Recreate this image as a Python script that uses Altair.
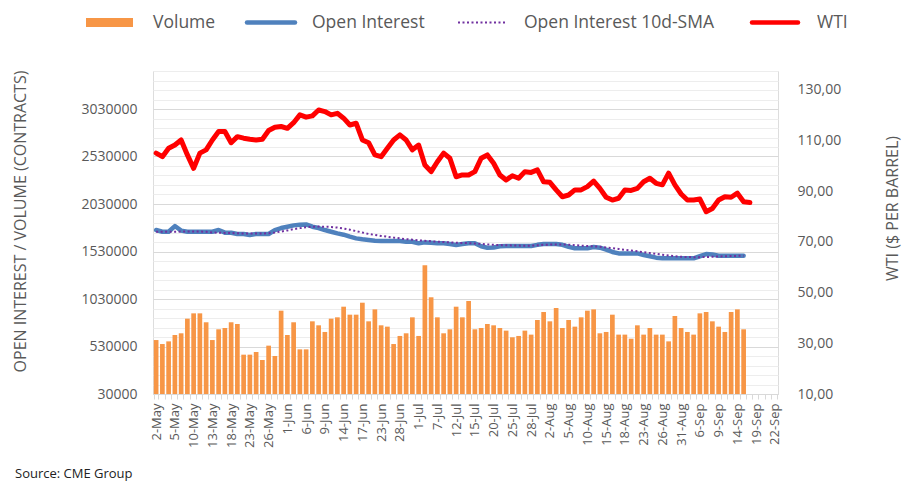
import json
import altair as alt
import pandas as pd

# ---- categories (trading days, 2-May .. 22-Sep) ----
may_days = [2, 3, 4, 5, 6, 9, 10, 11, 12, 13, 16, 17, 18, 19, 20, 23, 24, 25, 26, 27, 31]
jun_days = [1, 2, 3, 6, 7, 8, 9, 10, 13, 14, 15, 16, 17, 21, 22, 23, 24, 27, 28, 29, 30]
jul_days = [1, 5, 6, 7, 8, 11, 12, 13, 14, 15, 18, 19, 20, 21, 22, 25, 26, 27, 28, 29]
aug_days = [1, 2, 3, 4, 5, 8, 9, 10, 11, 12, 15, 16, 17, 18, 19, 22, 23, 24, 25, 26, 29, 30, 31]
sep_days = [1, 2, 6, 7, 8, 9, 12, 13, 14, 15, 16, 19, 20, 21, 22]

dates = ([f"{d}-May" for d in may_days] + [f"{d}-Jun" for d in jun_days] +
         [f"{d}-Jul" for d in jul_days] + [f"{d}-Aug" for d in aug_days] +
         [f"{d}-Sep" for d in sep_days])

# labels shown on the x axis (every third trading day)
x_labels = dates[::3]

# ---- series (thousands of contracts) ----
volume_k = [598, 556, 584, 651, 669, 823, 879, 879, 785, 598,
            711, 725, 785, 767, 444, 444, 472, 388, 539, 430,
            907, 651, 785, 500, 500, 795, 753, 683, 823, 837,
            949, 865, 865, 991, 795, 921, 753, 739, 556, 641,
            669, 837, 641, 1384, 1048, 837, 669, 711, 949, 837,
            1009, 711, 725, 767, 753, 725, 697, 627, 641, 697,
            655, 809, 893, 795, 935, 725, 809, 739, 837, 907,
            921, 669, 683, 865, 655, 655, 612, 753, 655, 725,
            655, 655, 584, 851, 725, 683, 655, 879, 893, 795,
            739, 683, 893, 921, 711]

oi_k = [1756, 1738, 1738, 1798, 1750, 1738, 1738, 1738, 1738, 1738,
        1756, 1728, 1728, 1714, 1714, 1704, 1714, 1714, 1714, 1756,
        1777, 1791, 1805, 1812, 1815, 1791, 1777, 1756, 1738, 1721,
        1707, 1686, 1668, 1658, 1651, 1644, 1640, 1640, 1640, 1640,
        1633, 1633, 1616, 1626, 1623, 1616, 1616, 1609, 1598, 1609,
        1616, 1616, 1585, 1570, 1572, 1585, 1588, 1588, 1588, 1588,
        1588, 1600, 1609, 1609, 1609, 1600, 1580, 1563, 1563, 1563,
        1577, 1570, 1550, 1525, 1510, 1510, 1510, 1510, 1493, 1480,
        1465, 1458, 1458, 1458, 1458, 1458, 1458, 1480, 1503, 1498,
        1486, 1486, 1486, 1486, 1486]

sma_k = [1738, 1738, 1738, 1738, 1740, 1740, 1740, 1740, 1738, 1730,
         1728, 1726, 1724, 1722, 1720, 1720, 1720, 1720, 1722, 1730,
         1740, 1752, 1765, 1776, 1785, 1790, 1792, 1791, 1788, 1782,
         1772, 1760, 1745, 1730, 1715, 1704, 1694, 1685, 1676, 1668,
         1660, 1654, 1648, 1643, 1638, 1633, 1630, 1626, 1622, 1620,
         1618, 1614, 1610, 1605, 1600, 1598, 1596, 1594, 1592, 1590,
         1592, 1596, 1600, 1603, 1605, 1605, 1602, 1597, 1592, 1588,
         1585, 1580, 1573, 1565, 1557, 1548, 1540, 1532, 1523, 1514,
         1505, 1496, 1488, 1481, 1475, 1472, 1470, 1470, 1472, 1475,
         1477, 1480, 1482, 1484, 1486]

wti = [105.0, 103.6, 106.9, 108.2, 110.2, 104.3, 99.0, 105.0, 106.3, 110.2,
       113.5, 113.5, 109.1, 111.5, 110.9, 110.5, 110.2, 110.5, 113.9, 115.2,
       115.5, 114.8, 117.0, 120.1, 119.2, 119.7, 122.0, 121.4, 120.1, 120.7,
       118.8, 116.1, 116.8, 110.2, 109.1, 104.3, 103.6, 106.9, 110.2, 112.2,
       110.2, 106.3, 108.2, 100.3, 97.7, 101.6, 105.0, 103.0, 95.7, 96.4,
       96.4, 97.7, 103.0, 104.3, 101.0, 96.4, 94.4, 96.1, 95.1, 97.7,
       97.4, 98.4, 93.7, 93.5, 90.5, 87.8, 88.5, 90.5, 90.5, 91.8,
       94.0, 91.1, 87.6, 86.5, 87.2, 90.5, 90.3, 91.1, 93.7, 95.1,
       93.1, 92.5, 97.1, 92.5, 88.9, 86.5, 86.5, 86.9, 81.9, 83.2,
       86.5, 87.8, 87.6, 89.2, 85.8, 85.5]

left_ticks = list(range(30000, 3430001, 100000))
right_ticks = [10, 30, 50, 70, 90, 110, 130]

series_names = ["Volume", "Open Interest", "Open Interest 10d-SMA", "WTI"]
series_colors = ["#F79646", "#4F81BD", "#7030A0", "#FF0000"]

# ---- tables ----
df_left = pd.DataFrame({
    "date": dates[:len(volume_k)],
    "volume": [v * 1000 for v in volume_k],
    "oi": [v * 1000 for v in oi_k],
    "sma": [v * 1000 for v in sma_k],
})
df_wti = pd.DataFrame({"date": dates[:len(wti)], "wti": wti})

FONT = "Open Sans"
GREY = "#595959"

x_enc = alt.X(
    "date:N", sort=dates,
    scale=alt.Scale(domain=dates, paddingInner=0.25, paddingOuter=0.125),
    axis=alt.Axis(
        title=None, labelAngle=-90, labelFont=FONT, labelFontSize=13,
        labelColor=GREY, labelPadding=4, labelOverlap=False,
        labelExpr="indexof(" + json.dumps(x_labels) + ", datum.value) >= 0 ? datum.value : ''",
        tickBand="extent", tickColor="#D9D9D9", tickSize=5, ticks=True,
        domainColor="#D9D9D9", grid=False,
    ),
)

left_scale = alt.Scale(domain=[30000, 3430000], nice=False, zero=False)
right_scale = alt.Scale(domain=[10, 137.4], nice=False, zero=False)

left_axis = alt.Axis(
    values=left_ticks, orient="left",
    labelExpr="(datum.value - 30000) % 500000 == 0 ? format(datum.value, 'd') : ''",
    labelFont=FONT, labelFontSize=14, labelColor=GREY, labelPadding=16,
    labelOverlap=False, ticks=False, domain=False,
    grid=True,
    gridColor={"condition": {"test": "(datum.value - 30000) % 500000 == 0", "value": "#D9D9D9"},
               "value": "#EDEDED"},
    gridWidth=1,
    title="OPEN INTEREST / VOLUME (CONTRACTS)", titleFont=FONT, titleFontSize=16,
    titleFontWeight="normal", titleColor=GREY, titleX=-133, titleY=150,
    titleBaseline="middle", titleAngle=270,
)

right_axis = alt.Axis(
    values=right_ticks, orient="right",
    labelExpr="replace(format(datum.value, '.2f'), '.', ',')",
    labelFont=FONT, labelFontSize=14, labelColor=GREY, labelPadding=19,
    labelOverlap=False, ticks=False, domain=False, grid=False,
    title="WTI ($ PER BARREL)", titleFont=FONT, titleFontSize=16,
    titleFontWeight="normal", titleColor=GREY, titleX=114, titleY=137,
    titleBaseline="middle", titleAngle=270,
)

bars = alt.Chart(df_left).mark_bar(color=series_colors[0]).encode(
    x=x_enc,
    y=alt.Y("volume:Q", scale=left_scale, axis=left_axis),
    y2=alt.datum(30000),
)

oi_line = alt.Chart(df_left).mark_line(
    color=series_colors[1], strokeWidth=4.5, strokeJoin="round", strokeCap="round"
).encode(
    x=x_enc,
    y=alt.Y("oi:Q", scale=left_scale, axis=None),
)

sma_line = alt.Chart(df_left).mark_line(
    color=series_colors[2], strokeWidth=2, strokeDash=[2, 2.5]
).encode(
    x=x_enc,
    y=alt.Y("sma:Q", scale=left_scale, axis=None),
)

wti_line = alt.Chart(df_wti).mark_line(
    color=series_colors[3], strokeWidth=5, strokeJoin="round", strokeCap="round"
).encode(
    x=x_enc,
    y=alt.Y("wti:Q", scale=right_scale, axis=right_axis),
)

# ---- legend (drawn as decorations above the plot) ----
one = alt.Data(values=[{}])
LEG_Y = -48.5
leg_text_style = dict(align="left", baseline="middle", font=FONT, fontSize=17.5, color=GREY)

leg_vol_sw = alt.Chart(one).mark_rect(color=series_colors[0]).encode(
    x=alt.value(-67), x2=alt.value(-20), y=alt.value(LEG_Y - 4.5), y2=alt.value(LEG_Y + 4.5))
leg_vol_tx = alt.Chart(one).mark_text(text=series_names[0], **leg_text_style).encode(
    x=alt.value(0), y=alt.value(LEG_Y))
leg_oi_sw = alt.Chart(one).mark_rule(color=series_colors[1], strokeWidth=4.5, strokeCap="round").encode(
    x=alt.value(94), x2=alt.value(142), y=alt.value(LEG_Y))
leg_oi_tx = alt.Chart(one).mark_text(text=series_names[1], **leg_text_style).encode(
    x=alt.value(159), y=alt.value(LEG_Y))
leg_sma_sw = alt.Chart(one).mark_rule(color=series_colors[2], strokeWidth=2, strokeDash=[2, 2.5]).encode(
    x=alt.value(305), x2=alt.value(352), y=alt.value(LEG_Y))
leg_sma_tx = alt.Chart(one).mark_text(text=series_names[2], **leg_text_style).encode(
    x=alt.value(371), y=alt.value(LEG_Y))
leg_wti_sw = alt.Chart(one).mark_rule(color=series_colors[3], strokeWidth=4.5, strokeCap="round").encode(
    x=alt.value(599), x2=alt.value(645), y=alt.value(LEG_Y))
leg_wti_tx = alt.Chart(one).mark_text(text=series_names[3], **leg_text_style).encode(
    x=alt.value(664), y=alt.value(LEG_Y))

source = alt.Chart(one).mark_text(
    text="Source: CME Group", align="left", baseline="middle", font=FONT, fontSize=13, color="#222222"
).encode(x=alt.value(-138), y=alt.value(403))

chart = alt.layer(
    bars, oi_line, sma_line, wti_line,
    leg_vol_sw, leg_vol_tx, leg_oi_sw, leg_oi_tx, leg_sma_sw, leg_sma_tx, leg_wti_sw, leg_wti_tx,
    source,
).resolve_scale(
    y="independent"
).properties(
    width=625, height=323,
    autosize=alt.AutoSizeParams(type="none"),
    padding={"left": 145, "top": 63, "right": 126, "bottom": 91},
).configure_view(stroke="transparent").configure(background="white")

chart.save("out.html", embed_options={"renderer": "svg", "actions": False})
